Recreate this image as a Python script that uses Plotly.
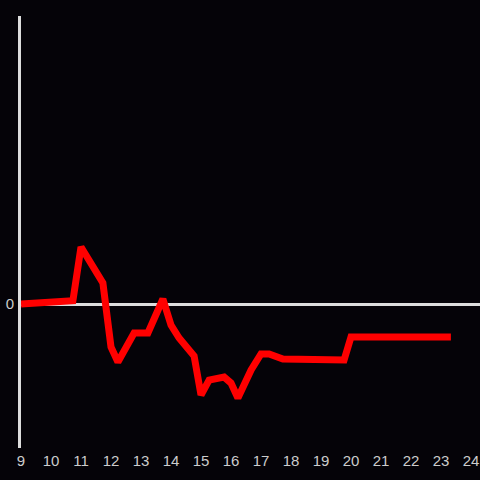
import plotly.graph_objects as go

x_hours = [9.0, 9.77, 10.73, 11.0, 11.73, 12.0, 12.23, 12.77, 13.23, 13.73, 14.0, 14.27,
           14.77, 15.0, 15.27, 15.77, 16.0, 16.23, 16.67, 17.0, 17.27, 17.73, 19.77, 20.0, 23.33]
y_values = [0.0, 0.1, 0.33, 5.7, 2.1, -4.3, -5.8, -2.9, -2.9, 0.5, -2.1, -3.4,
            -5.2, -9.1, -7.6, -7.3, -7.9, -9.4, -6.6, -5.0, -5.0, -5.5, -5.6, -3.3, -3.3]
x_ticks = list(range(9, 25))

fig = go.Figure()
fig.add_trace(go.Scatter(x=x_hours, y=y_values, mode="lines",
                         line=dict(color="#ff0000", width=7), showlegend=False,
                         hoverinfo="skip"))

bg = "#050308"
fig.update_layout(
    width=480, height=480,
    paper_bgcolor=bg, plot_bgcolor=bg,
    margin=dict(l=21, r=0, t=16, b=32),
    font=dict(family="Liberation Sans, Arial, sans-serif", size=15, color="#cccccc"),
)
fig.update_xaxes(range=[9, 24.3], tickvals=x_ticks, ticktext=[str(t) for t in x_ticks],
                 showgrid=False, zeroline=False, showline=False, ticks="", ticklen=0,
                 ticklabelstandoff=2)
fig.update_yaxes(range=[-14.4, 28.8], tickvals=[0], ticktext=["0"], showgrid=False,
                 zeroline=True, zerolinecolor="#dddddd", zerolinewidth=3,
                 showline=True, linecolor="#dddddd", linewidth=3, ticks="", ticklen=0,
                 ticklabelstandoff=1)

fig.write_html("out.html", config={"displayModeBar": False},
               post_script="document.body.style.margin='0';document.body.style.background='%s';" % bg)
